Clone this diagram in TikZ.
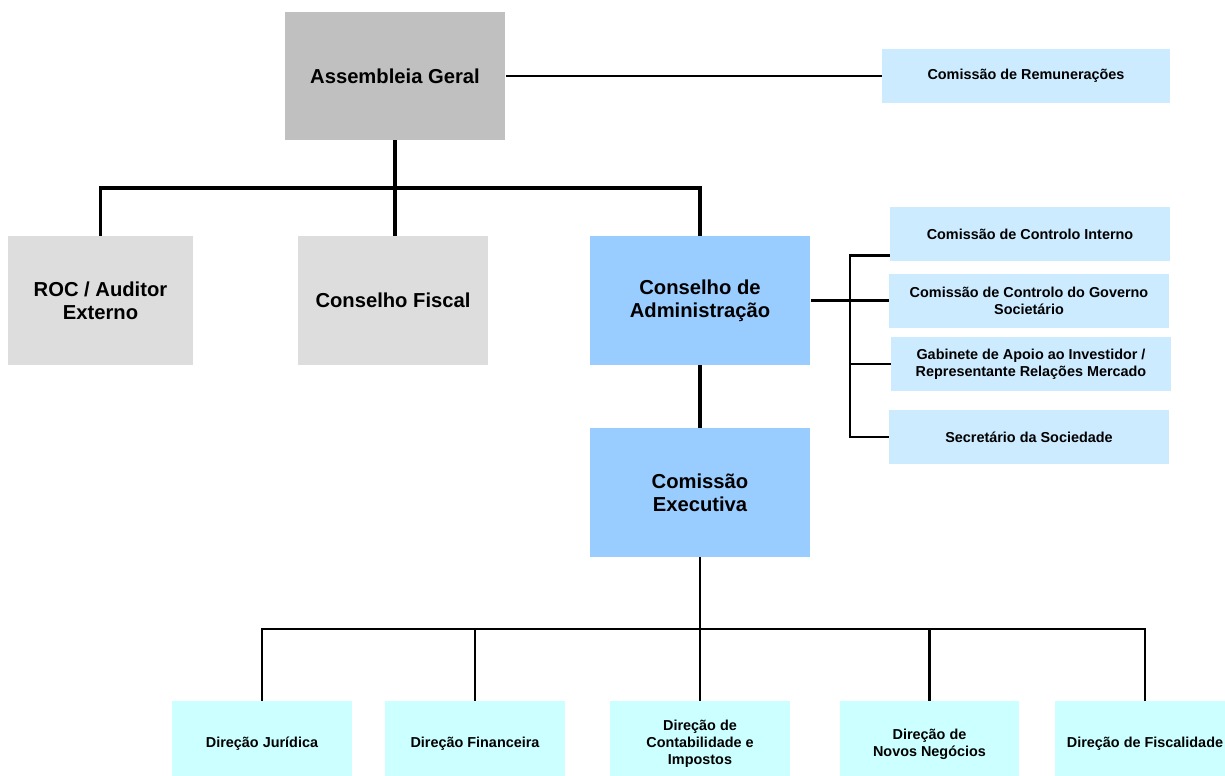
\documentclass[tikz,border=0pt]{standalone}
\usepackage{fontspec}
\setmainfont{Liberation Sans}
\usetikzlibrary{calc}
\definecolor{aggrey}{HTML}{C0C0C0}
\definecolor{lightgrey}{HTML}{DDDDDD}
\definecolor{boardblue}{HTML}{99CCFF}
\definecolor{sideblue}{HTML}{CCEBFF}
\definecolor{dircyan}{HTML}{CCFFFF}
\tikzstyle{box}=[rectangle, inner sep=0pt, align=center, anchor=center, font=\bfseries\fontsize{11.5}{13}\selectfont]
\tikzstyle{bigbox}=[box, minimum width=4.42cm, minimum height=2.58cm]
\tikzstyle{sidebox}=[box, fill=sideblue, minimum width=5.6cm, minimum height=1.08cm, font=\bfseries\fontsize{8.2}{9.7}\selectfont]
\tikzstyle{dirbox}=[box, fill=dircyan, minimum width=3.6cm, minimum height=1.72cm, font=\bfseries\fontsize{8.2}{9.7}\selectfont]
\tikzstyle{link}=[line width=2.1pt]
\tikzstyle{thinlink}=[line width=1.5pt]

\begin{document}
\begin{tikzpicture}[x=0.02cm, y=-0.02cm]
	\useasboundingbox (0,0) rectangle (1225,775);

	% top level
	\node[bigbox, fill=aggrey, minimum height=2.56cm](ag) at (395,76){Assembleia Geral};
	\node[sidebox, minimum width=5.76cm](remun) at (1026,76){Comissão de Remunerações};

	% second level
	\node[bigbox, fill=lightgrey, minimum width=3.7cm](roc) at (100.5,300.5){ROC / Auditor\\Externo};
	\node[bigbox, fill=lightgrey, minimum width=3.8cm](cf) at (393,300.5){Conselho Fiscal};
	\node[bigbox, fill=boardblue](ca) at (700,300.5){Conselho de\\Administração};
	\node[bigbox, fill=boardblue](ce) at (700,492.5){Comissão\\Executiva};

	% committees of the board
	\node[sidebox](ci) at (1030,234){Comissão de Controlo Interno};
	\node[sidebox](cgs) at (1029,300.5){Comissão de Controlo do Governo\\Societário};
	\node[sidebox](gai) at (1031,364){Gabinete de Apoio ao Investidor /\\Representante Relações Mercado};
	\node[sidebox](sec) at (1029,437){Secretário da Sociedade};

	% directions
	\node[dirbox](dj) at (262,744){Direção Jurídica};
	\node[dirbox](dfin) at (475,744){Direção Financeira};
	\node[dirbox](dci) at (700,744){Direção de\\Contabilidade e\\Impostos};
	\node[dirbox](dnn) at (929.5,744){Direção de\\Novos Negócios};
	\node[dirbox](dfis) at (1145,744){Direção de Fiscalidade};

	\coordinate (topbus) at (395,188);
	\coordinate (sidebus) at (850,300.5);
	\coordinate (botbus) at (700,629);

	\draw[thinlink] (ag.east) -- (remun.west);
	\draw[link] (ag.south) -- (topbus);
	\draw[link] (topbus) -| (roc.north);
	\draw[link] (topbus) -- (cf.north -| topbus);
	\draw[link] (topbus) -| (ca.north);
	\draw[link] (ca.south) -- (ce.north);

	\draw[thinlink] (ca.east) -- (sidebus);
	\draw[thinlink] (sidebus) |- ([yshift=0.12cm]ci.south west);
	\draw[thinlink] (sidebus) -- (cgs.west);
	\draw[thinlink] (sidebus) |- (gai.west);
	\draw[thinlink] (sidebus) |- (sec.west);

	\draw[thinlink] (ce.south) -- (botbus);
	\draw[thinlink] (botbus) -| (dj.north);
	\draw[thinlink] (botbus) -| (dfin.north);
	\draw[thinlink] (botbus) -- (dci.north);
	\draw[thinlink] (botbus) -| (dnn.north);
	\draw[thinlink] (botbus) -| (dfis.north);

\end{tikzpicture}
\end{document}
